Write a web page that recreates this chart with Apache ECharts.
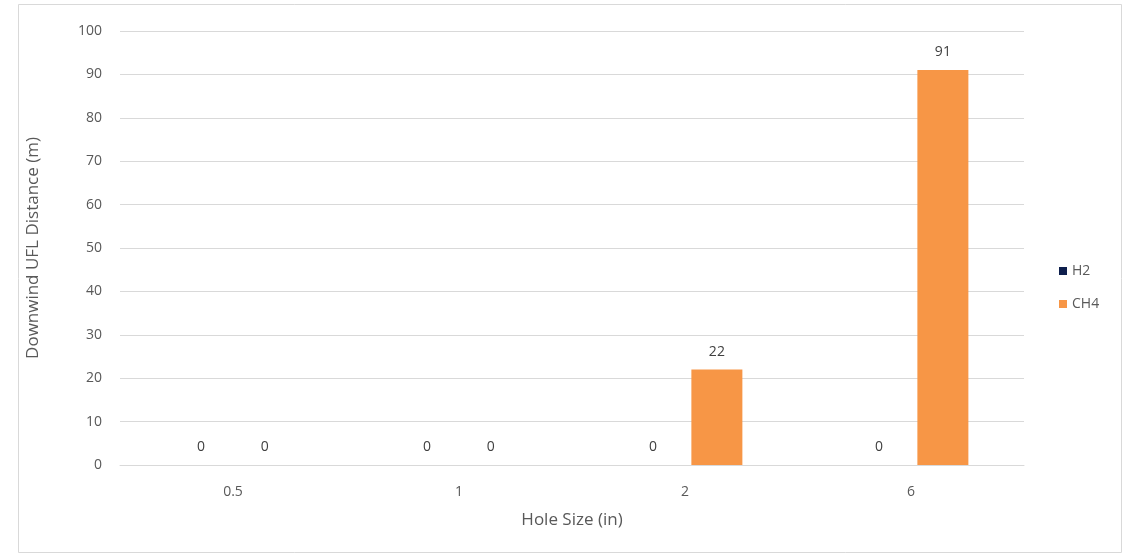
<!DOCTYPE html>
<html><head><meta charset="utf-8">
<script src="https://cdn.jsdelivr.net/npm/echarts@6/dist/echarts.min.js"></script>
<style>html,body{margin:0;padding:0;background:#fff}#c{width:1130px;height:557px}</style>
</head><body><div id="c"></div>
<script>
const categories = ['0.5', '1', '2', '6'];
const h2Values = [0, 0, 0, 0];
const ch4Values = [0, 0, 22, 91];
const seriesNames = ['H2', 'CH4'];

const chart = echarts.init(document.getElementById('c'), null, {renderer: 'canvas'});
const font = 'Open Sans, Noto Sans, sans-serif';
const labelStyle = {show: true, position: 'top', distance: 11, color: '#404040', fontSize: 14, fontFamily: font};
chart.setOption({
  animation: false,
  backgroundColor: '#fff',
  graphic: [{type: 'rect', shape: {x: 18.5, y: 4.5, width: 1103, height: 548}, style: {fill: 'none', stroke: '#d9d9d9', lineWidth: 1}, silent: true}],
  grid: {left: 120, right: 106, top: 31, bottom: 92},
  legend: {
    orient: 'vertical', left: 1054, top: 259, itemWidth: 8, itemHeight: 8, itemGap: 19,
    icon: 'rect', textStyle: {color: '#595959', fontSize: 14, fontFamily: font},
    data: seriesNames
  },
  xAxis: {
    type: 'category', data: categories,
    name: 'Hole Size (in)', nameLocation: 'middle', nameGap: 47,
    nameTextStyle: {color: '#595959', fontSize: 17, fontFamily: font},
    axisLine: {lineStyle: {color: '#d9d9d9'}}, axisTick: {show: false},
    axisLabel: {color: '#595959', fontSize: 14, fontFamily: font, margin: 20}
  },
  yAxis: {
    type: 'value', min: 0, max: 100, interval: 10,
    name: 'Downwind UFL Distance (m)', nameLocation: 'middle', nameGap: 78,
    nameTextStyle: {color: '#595959', fontSize: 17, fontFamily: font},
    axisLine: {show: false}, axisTick: {show: false},
    axisLabel: {color: '#595959', fontSize: 14, fontFamily: font, margin: 18},
    splitLine: {lineStyle: {color: '#d9d9d9'}}
  },
  series: [
    {name: seriesNames[0], type: 'bar', data: h2Values, barWidth: 51, barGap: '25%', itemStyle: {color: '#0e1f4d'}, label: labelStyle},
    {name: seriesNames[1], type: 'bar', data: ch4Values, barWidth: 51, barGap: '25%', itemStyle: {color: '#f79646'}, label: labelStyle}
  ]
});
</script></body></html>
